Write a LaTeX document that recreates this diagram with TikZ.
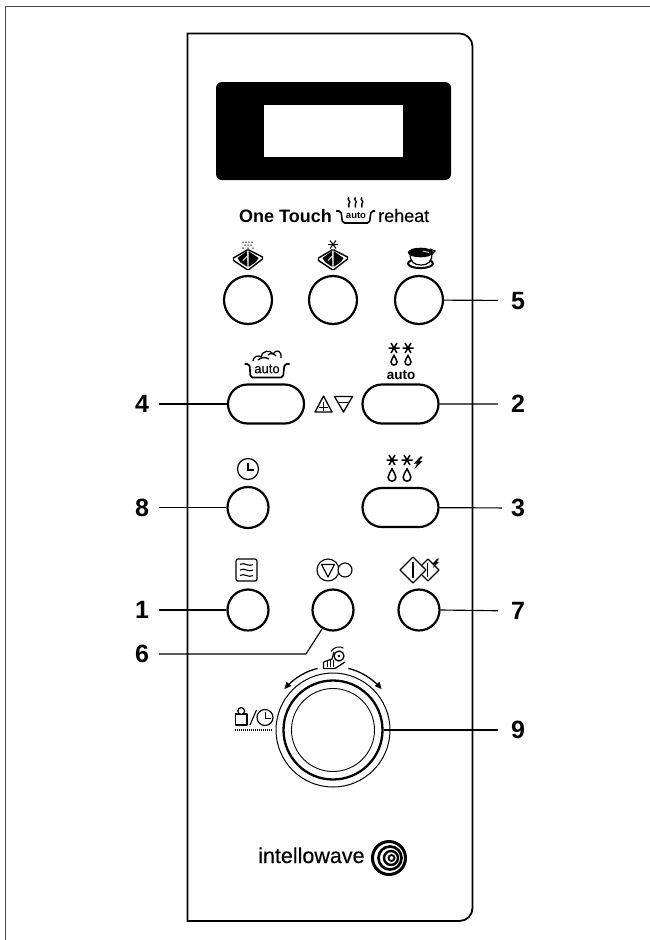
\documentclass[tikz,border=0pt]{standalone}
\usepackage{fontspec}
\setmainfont{Liberation Sans}
\newfontfamily\medfont[FakeBold=0.35]{Liberation Sans}
\usetikzlibrary{arrows.meta,shapes.misc}
\tikzset{
  round button/.style={circle,draw,line width=2.2pt,inner sep=0pt,minimum size=#1},
  pill button/.style={rounded rectangle,draw,line width=2.2pt,inner sep=0pt,minimum width=76pt,minimum height=39pt},
  leader/.style={line width=1.15pt},
  numlabel/.style={font=\fontsize{25}{25}\selectfont\bfseries,inner ysep=0pt,inner xsep=#1,text height=17pt,text depth=0pt},
  icon/.style={line width=1.3pt,line join=round},
  ring/.style={circle,draw,inner sep=0pt,minimum size=#1},
  sturn/.pic={\draw[line width=1.4pt] (0,-5) .. controls (-3,-3) and (3,-1) .. (0,1) .. controls (-2,2.5) and (1.5,3.5) .. (0,5);},
  astk/.pic={\draw[line width=1.5pt] (-5.5,0) -- (5.5,0) (-3,-5) -- (3,5) (3,-5) -- (-3,5);},
  dropicon/.pic={\draw[line width=1.5pt,fill=white] (0,-5.5) .. controls (-0.8,-3) and (-3,-1.5) .. (-3,1) .. controls (-3,5) and (3,5) .. (3,1) .. controls (3,-1.5) and (0.8,-3) .. (0,-5.5) -- cycle;},
  bolt/.pic={\fill (2.5,-6) -- (-4,1) -- (-0.8,1) -- (-3.5,6.5) -- (4.5,-1.5) -- (1.3,-1.5) -- (5,-6) -- cycle;},
  tray/.pic={
    \draw[line width=1.4pt,fill=white,line join=round] (-14.5,-1) -- (-1,-9) -- (1,-9) -- (14.5,-2) -- (14.5,0) -- (1,10.5) -- (-1,10.5) -- (-14.5,1.5) -- cycle;
    \fill (-10.5,-1) -- (-1,-8) -- (-0.6,8) -- (-8,3) -- cycle;
    \fill (0.6,-8) -- (10.5,-1) -- (8,3) -- (0.6,8) -- cycle;
    \draw[white,line width=0.8pt] (-5,1.5) -- (-0.6,-3);
  },
}
\begin{document}
\begin{tikzpicture}[x=1pt,y=-1pt]
\useasboundingbox (0,0) rectangle (650,940);
% sheet edges
\draw[line width=1pt,black!70] (5.5,940) -- (5.5,6.5) -- (650,6.5);
% panel
\draw[line width=1.8pt] (187.5,921) -- (187.5,33.5) -- (440,33.5) [rounded corners=13pt] -- (472.5,33.5) -- (472.5,921) -- (440,921) [sharp corners] -- (187.5,921) -- cycle;
% display
\node[fill=black,rounded corners=6pt,minimum width=235pt,minimum height=98pt,inner sep=0pt] (display) at (333.5,131) {};
\node[fill=white,minimum width=139pt,minimum height=52pt,inner sep=0pt] (window) at (333.5,131) {};
% heading
\node[anchor=base west,inner sep=0pt,font=\fontsize{18}{18}\selectfont\bfseries] (onetouch) at (239,222) {One Touch};
\node[anchor=base west,inner sep=0pt,font=\fontsize{18}{18}\medfont] (reheat) at (378,222) {reheat};
\draw[icon,line width=1.6pt,rounded corners=2pt] (336,211) -- (341,211) -- (342.5,223) -- (369.5,223) -- (371,211) -- (375,211);
\node[inner sep=0pt,font=\fontsize{9.5}{9.5}\selectfont\bfseries] (autotop) at (356,215.5) {auto};
\pic at (349,202.5) {sturn};
\pic at (355.5,202.5) {sturn};
\pic at (362,202.5) {sturn};
% buttons
\node[round button=48pt] (b10) at (248,300) {};
\node[round button=48pt] (b11) at (333,300) {};
\node[round button=48pt] (b5) at (419,300) {};
\node[pill button] (b4) at (266,404) {};
\node[pill button] (b2) at (400.5,404) {};
\node[round button=41pt] (b8) at (248,507.5) {};
\node[pill button] (b3) at (400.5,507.5) {};
\node[round button=41pt] (b1) at (248,610) {};
\node[round button=41pt] (b6) at (333,610) {};
\node[round button=41pt] (b7) at (419,610) {};
% knob
\node[ring=114pt,line width=1pt] (knobouter) at (333,730) {};
\node[ring=99pt,line width=2.3pt] (knobmid) at (333,730) {};
\node[ring=83pt,line width=0.9pt] (knobinner) at (333,730) {};
% numbers
\node[numlabel=13pt] (n5) at (518,300.5) {5};
\node[numlabel=13pt] (n2) at (518,404) {2};
\node[numlabel=9pt] (n3) at (518,508) {3};
\node[numlabel=13pt] (n7) at (518,611) {7};
\node[numlabel=13pt] (n9) at (518,730) {9};
\node[numlabel=10pt] (n4) at (142,404) {4};
\node[numlabel=10pt] (n8) at (142,507.5) {8};
\node[numlabel=10pt] (n1) at (142,610) {1};
\node[numlabel=10pt] (n6) at (142,654) {6};
\coordinate (bend6) at (306,654);
% connectors
\draw[leader] (b5) -- (n5);
\draw[leader] (b2) -- (n2);
\draw[leader] (b3) -- (n3);
\draw[leader] (b7.east) -- (n7);
\draw[leader] (knobmid) -- (n9);
\draw[leader] (n4) -- (b4);
\draw[leader] (n8) -- (b8);
\draw[leader] (n1) -- (b1);
\draw[leader] (n6) -- (bend6) -- (b6.-120);
% row 1 icons
\pic at (248,259) {tray};
\pic at (333,259) {tray};
\fill (243,242) circle[radius=.75pt] (246,242) circle[radius=.75pt] (249,242) circle[radius=.75pt] (252,242) circle[radius=.75pt]
  (245,245) circle[radius=.75pt] (248,245) circle[radius=.75pt] (251,245) circle[radius=.75pt]
  (243,248) circle[radius=.75pt] (253,248) circle[radius=.75pt] (248,248) circle[radius=.75pt];
\draw[line width=1pt] (328,244.5) -- (338,244.5) (330,240.5) -- (336,248.5) (336,240.5) -- (330,248.5);
% cup
\draw[line width=2pt] (420.5,263.5) ellipse[x radius=12.5pt,y radius=4.6pt];
\draw[line width=1.2pt,fill=white] (410,253) .. controls (410,262) and (414,265) .. (421,265) .. controls (428,265) and (432,262) .. (432,253) -- cycle;
\draw[line width=1.2pt,fill=black] (420.5,252.5) ellipse[x radius=12pt,y radius=4.2pt];
\draw[line width=1.2pt] (430,249) -- (435,251) -- (431,255);
\draw[white,line width=.8pt] (423,251) -- (429,252.5);
% pot
\draw[icon,line width=1.7pt,rounded corners=2pt] (244.5,364) -- (249.5,364) -- (250.5,377.5) -- (283,377.5) -- (284.5,364) -- (289.5,364);
\node[inner sep=0pt,font=\fontsize{13}{13}\medfont] (autopot) at (267,369) {auto};
\draw[icon] (253,361) .. controls (253,356) and (259,355) .. (261,357) .. controls (261,351) and (271,349) .. (273,354) .. controls (276,349) and (282,350) .. (281,358);
\draw[icon] (258,360) .. controls (261,357) and (266,357) .. (269,359);
\draw[icon] (268,355) .. controls (270,353) and (274,353) .. (276,356);
% frost auto
\pic at (394,348) {astk};
\pic at (408,348) {astk};
\pic at (394,361) {dropicon};
\pic at (408,361) {dropicon};
\node[inner sep=0pt,font=\fontsize{13.5}{13.5}\selectfont\bfseries] (autodef) at (401,375) {auto};
% plus minus
\draw[icon] (323.5,396) -- (315,412) -- (332,412) -- cycle;
\draw[line width=.9pt] (323.5,402) -- (323.5,411) (319,407.5) -- (328,407.5);
\draw[icon] (334.5,396.5) -- (352.5,396.5) -- (343.5,412) -- cycle;
\draw[line width=.9pt] (339,402) -- (348,402);
% clock 8
\node[ring=21pt,line width=1.2pt] (clock8) at (248,469) {};
\draw[line width=1.1pt] (clock8.center) ++(0,-6.5) -- ++(0,7.5) -- ++(6,0);
% quick defrost
\pic at (392,460) {astk};
\pic at (407,460) {astk};
\pic[scale=1.3] at (392,476) {dropicon};
\pic[scale=1.3] at (407,476) {dropicon};
\pic at (418,462.5) {bolt};
% microwave icon
\draw[line width=1.3pt,rounded corners=2pt] (236,559) rectangle (257,581);
\draw[line width=1.1pt] (240,564.5) .. controls (244,561.5) and (249,567.5) .. (253,564.5)
  (240,570) .. controls (244,567) and (249,573) .. (253,570)
  (240,575.5) .. controls (244,572.5) and (249,578.5) .. (253,575.5);
% stop start icon
\node[ring=22pt,line width=1.1pt] (stopc) at (328,570) {};
\draw[line width=1.1pt,line join=round] (321.5,564.5) -- (334.5,564.5) -- (328,577) -- cycle;
\node[ring=14pt,line width=1.1pt,fill=white] (startc) at (345,570) {};
% grill icon
\draw[line width=1.3pt,line join=round,fill=white] (428,559) -- (439,570) -- (428,581) -- (417,570) -- cycle;
\fill[white] (436.5,556) rectangle (442,565);
\draw[line width=1.4pt] (427.5,563) -- (427.5,577);
\draw[line width=1.3pt,line join=round,fill=white] (413,557) -- (426,570) -- (413,583) -- (400,570) -- cycle;
\draw[line width=1.4pt] (413,562) -- (413,578);
\pic[scale=.75] at (435.5,563) {bolt};
% hand icon
\draw[line width=1.2pt,line join=round] (323.5,662) -- (323.5,668.5) -- (335,668.5) -- (345,662) (323.5,662) -- (332,659) -- (334,652);
\draw[line width=1pt] (327,661) -- (327,667) (330,660) -- (330,667) (333.5,660) -- (333.5,667);
\node[ring=10pt,line width=1.3pt,fill=white] (dialc) at (339,656) {};
\fill (339,656) circle[radius=1.4pt];
\draw[line width=1pt] plot[domain=60:150,samples=12,smooth] ({339+9*cos(\x)},{656-9*sin(\x)});
% knob arrows
\draw[line width=1.3pt,-{Triangle[length=7pt,width=6pt]}] plot[domain=104:140,samples=16,smooth] ({333+63.5*cos(\x)},{730-63.5*sin(\x)});
\draw[line width=1.3pt,-{Triangle[length=7pt,width=6pt]}] plot[domain=76:40,samples=16,smooth] ({333+63.5*cos(\x)},{730-63.5*sin(\x)});
% weight / time
\draw[line width=1.2pt,line join=round] (235.5,714) rectangle (247,725);
\draw[line width=1.2pt,fill=white] (241.2,711) circle[radius=3.4pt];
\draw[line width=1.1pt] (250,725) -- (256.5,710);
\node[ring=16pt,line width=1.2pt] (clockw) at (265,717.5) {};
\draw[line width=1pt] (265,712) -- (265,718.5) -- (270.5,718.5);
\draw[line width=1.1pt,dash pattern=on 1pt off 1pt] (235,730) -- (273,730);
% logo
\node[anchor=base west,inner sep=0pt,font=\fontsize{21.5}{21.5}\medfont] (logotext) at (258,863) {intellowave};
\draw[line width=3pt] (389,858) circle[radius=16.5pt];
\draw[line width=2.7pt] (390,858) circle[radius=11.5pt];
\draw[line width=2.4pt] (391,858) circle[radius=7pt];
\draw[line width=1.8pt] (391.5,858) circle[radius=3pt];
\end{tikzpicture}
\end{document}
